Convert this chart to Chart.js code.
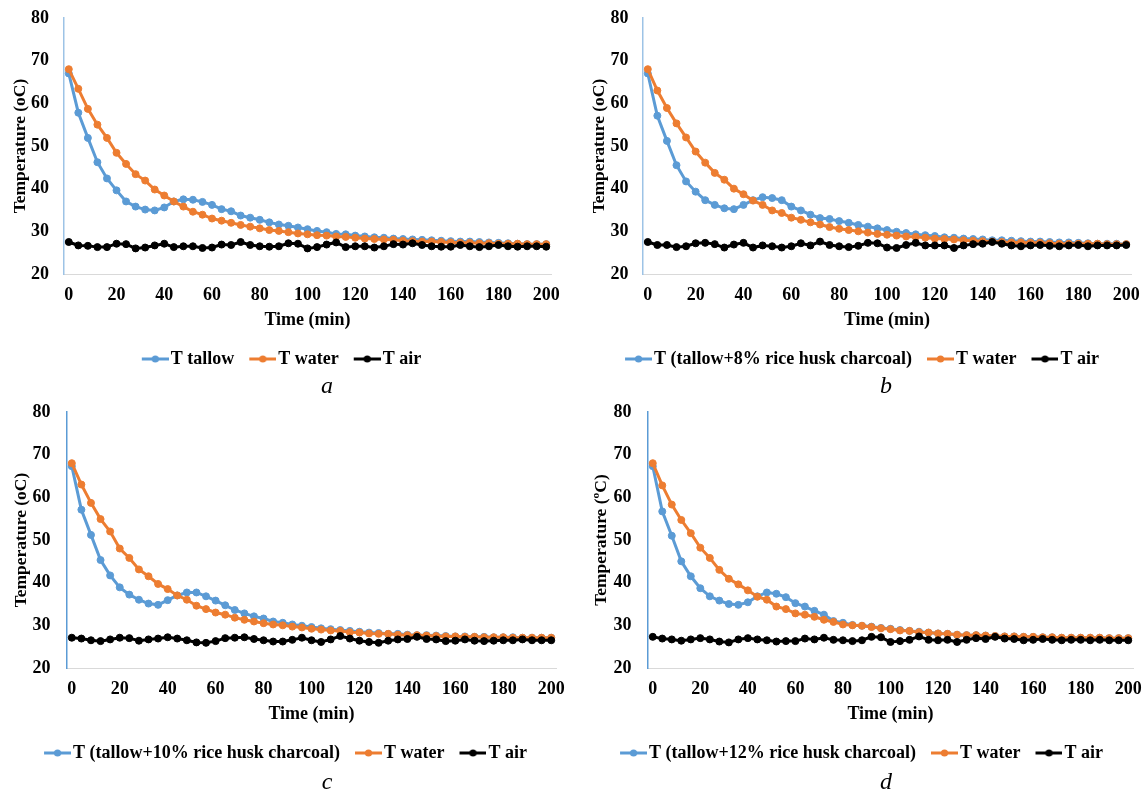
<!DOCTYPE html>
<html lang="en">
<head>
<meta charset="UTF-8">
<title>Cooling curves: tallow and tallow + rice husk charcoal</title>
<script src="https://cdn.jsdelivr.net/npm/chart.js"></script>
<style>
  body { margin: 0; background: #fff; }
  .panel { position: absolute; }
  .caption {
    position: absolute;
    font: italic 24px "Liberation Serif", "Times New Roman", serif;
    line-height: 1;
    transform: translate(-50%, -50%);
  }
</style>
</head>
<body>

<canvas id="chartA" class="panel" width="573" height="396" style="left:0;top:0"></canvas>
<canvas id="chartB" class="panel" width="573" height="396" style="left:573px;top:0"></canvas>
<canvas id="chartC" class="panel" width="573" height="396" style="left:0;top:394px"></canvas>
<canvas id="chartD" class="panel" width="573" height="396" style="left:573px;top:394px"></canvas>

<div class="caption" style="left:327px;top:385px">a</div>
<div class="caption" style="left:886px;top:385px">b</div>
<div class="caption" style="left:327px;top:781px">c</div>
<div class="caption" style="left:886px;top:781px">d</div>

<script>
// time axis, minutes
const timeMin = [0, 4, 8, 12, 16, 20, 24, 28, 32, 36, 40, 44, 48, 52, 56, 60, 64, 68, 72, 76,
  80, 84, 88, 92, 96, 100, 104, 108, 112, 116, 120, 124, 128, 132, 136, 140, 144, 148, 152, 156,
  160, 164, 168, 172, 176, 180, 184, 188, 192, 196, 200];

// (a) pure tallow
const tallowA = [67.0, 57.8, 51.9, 46.2, 42.4, 39.6, 37.0, 35.8, 35.1, 34.9, 35.6, 37.0, 37.5, 37.4, 36.9, 36.2, 35.2, 34.7, 33.7, 33.2,
  32.7, 32.1, 31.6, 31.3, 30.9, 30.5, 30.1, 29.8, 29.4, 29.3, 29.0, 28.8, 28.6, 28.5, 28.3, 28.2, 28.1, 28.0, 27.9, 27.8,
  27.7, 27.6, 27.6, 27.5, 27.4, 27.3, 27.2, 27.1, 27.0, 27.0, 27.0];
const waterA = [68.0, 63.4, 58.7, 55.0, 51.9, 48.4, 45.8, 43.4, 41.9, 39.8, 38.4, 37.0, 35.8, 34.6, 33.9, 33.0, 32.5, 32.0, 31.5, 31.1,
  30.7, 30.3, 30.1, 29.8, 29.5, 29.3, 29.1, 29.0, 28.8, 28.7, 28.5, 28.3, 28.2, 28.1, 28.0, 27.8, 27.7, 27.6, 27.6, 27.5,
  27.4, 27.3, 27.3, 27.2, 27.2, 27.1, 27.1, 27.1, 27.0, 27.0, 27.0];
const airA = [27.5, 26.7, 26.6, 26.3, 26.3, 27.1, 27.0, 26.0, 26.2, 26.7, 27.1, 26.3, 26.5, 26.5, 26.1, 26.2, 26.9, 26.8, 27.5, 26.8,
  26.5, 26.4, 26.5, 27.2, 27.1, 26.0, 26.3, 26.9, 27.4, 26.3, 26.5, 26.5, 26.2, 26.5, 27.0, 26.9, 27.2, 26.8, 26.5, 26.4,
  26.4, 26.8, 26.5, 26.3, 26.5, 26.8, 26.5, 26.4, 26.5, 26.5, 26.4];

// (b) tallow + 8% rice husk charcoal
const tallowB = [67.0, 57.1, 51.2, 45.5, 41.7, 39.3, 37.3, 36.2, 35.4, 35.2, 36.2, 37.3, 38.0, 37.8, 37.3, 35.8, 34.9, 33.9, 33.1, 32.9,
  32.4, 32.0, 31.5, 31.1, 30.7, 30.3, 29.9, 29.6, 29.3, 29.1, 28.9, 28.6, 28.5, 28.3, 28.2, 28.1, 27.9, 27.9, 27.8, 27.7,
  27.6, 27.6, 27.5, 27.4, 27.4, 27.3, 27.2, 27.1, 27.1, 27.1, 27.0];
const waterB = [68.0, 63.0, 58.9, 55.3, 52.0, 48.7, 46.1, 43.7, 42.1, 40.0, 38.7, 37.2, 36.2, 34.9, 34.3, 33.2, 32.7, 32.1, 31.6, 31.0,
  30.6, 30.3, 30.0, 29.7, 29.4, 29.2, 29.0, 28.8, 28.7, 28.5, 28.3, 28.2, 28.1, 27.9, 27.8, 27.7, 27.6, 27.5, 27.4, 27.4,
  27.3, 27.3, 27.2, 27.1, 27.1, 27.1, 27.1, 27.1, 27.0, 27.0, 27.0];
const airB = [27.5, 26.8, 26.8, 26.3, 26.5, 27.2, 27.3, 27.0, 26.2, 26.9, 27.3, 26.2, 26.7, 26.5, 26.2, 26.5, 27.2, 26.7, 27.6, 26.8,
  26.5, 26.3, 26.6, 27.3, 27.2, 26.2, 26.1, 26.8, 27.3, 26.7, 26.7, 26.7, 26.1, 26.7, 27.0, 27.1, 27.5, 27.1, 26.7, 26.5,
  26.7, 26.8, 26.6, 26.5, 26.7, 26.8, 26.5, 26.7, 26.7, 26.7, 26.8];

// (c) tallow + 10% rice husk charcoal
const tallowC = [67.3, 57.1, 51.2, 45.3, 41.7, 38.9, 37.2, 36.0, 35.1, 34.8, 35.9, 37.0, 37.7, 37.7, 36.8, 35.8, 34.7, 33.6, 32.8, 32.1,
  31.6, 30.9, 30.6, 30.2, 29.9, 29.6, 29.3, 29.1, 28.9, 28.7, 28.5, 28.3, 28.2, 28.0, 28.0, 27.8, 27.7, 27.7, 27.6, 27.5,
  27.4, 27.4, 27.3, 27.3, 27.2, 27.2, 27.2, 27.1, 27.1, 27.1, 27.1];
const waterC = [68.0, 63.0, 58.7, 54.9, 52.0, 48.0, 45.8, 43.1, 41.5, 39.7, 38.5, 37.0, 36.0, 34.6, 33.8, 33.0, 32.5, 31.8, 31.3, 30.9,
  30.5, 30.2, 30.0, 29.7, 29.5, 29.2, 29.0, 28.8, 28.7, 28.4, 28.3, 28.1, 28.0, 28.0, 27.8, 27.7, 27.7, 27.6, 27.5, 27.4,
  27.4, 27.3, 27.3, 27.2, 27.2, 27.2, 27.1, 27.1, 27.1, 27.1, 27.1];
const airC = [27.1, 26.9, 26.5, 26.3, 26.7, 27.1, 27.0, 26.4, 26.7, 26.9, 27.2, 26.9, 26.5, 26.0, 25.9, 26.3, 27.0, 27.1, 27.2, 26.8,
  26.5, 26.2, 26.2, 26.6, 27.1, 26.5, 26.1, 26.7, 27.5, 26.9, 26.4, 26.1, 25.9, 26.4, 26.7, 26.8, 27.3, 26.8, 26.7, 26.3,
  26.4, 26.7, 26.4, 26.3, 26.4, 26.5, 26.5, 26.7, 26.5, 26.5, 26.5];

// (d) tallow + 12% rice husk charcoal
const tallowD = [67.3, 56.7, 51.0, 45.0, 41.5, 38.7, 36.8, 35.8, 35.0, 34.8, 35.4, 36.8, 37.7, 37.4, 36.6, 35.2, 34.4, 33.4, 32.5, 31.0,
  30.6, 30.1, 29.9, 29.7, 29.4, 29.2, 28.9, 28.7, 28.5, 28.3, 28.1, 28.0, 27.8, 27.7, 27.7, 27.6, 27.5, 27.4, 27.4, 27.3,
  27.3, 27.2, 27.2, 27.1, 27.1, 27.1, 27.1, 27.1, 27.0, 27.0, 27.0];
const waterD = [68.0, 62.8, 58.3, 54.7, 51.6, 48.2, 45.8, 43.0, 40.9, 39.6, 38.2, 36.7, 36.0, 34.4, 33.8, 32.8, 32.5, 32.0, 31.3, 30.8,
  30.2, 30.0, 29.9, 29.6, 29.3, 29.1, 28.8, 28.7, 28.4, 28.3, 28.1, 28.0, 27.8, 27.7, 27.7, 27.6, 27.5, 27.4, 27.4, 27.3,
  27.3, 27.2, 27.2, 27.1, 27.1, 27.1, 27.1, 27.1, 27.0, 27.0, 27.0];
const airD = [27.3, 26.9, 26.7, 26.4, 26.7, 27.0, 26.7, 26.2, 26.0, 26.7, 27.0, 26.7, 26.5, 26.2, 26.3, 26.3, 26.9, 26.7, 27.1, 26.6,
  26.5, 26.3, 26.5, 27.3, 27.2, 26.1, 26.3, 26.6, 27.4, 26.6, 26.5, 26.6, 26.1, 26.6, 27.0, 26.8, 27.3, 26.9, 26.8, 26.5,
  26.6, 26.8, 26.6, 26.5, 26.6, 26.6, 26.5, 26.6, 26.5, 26.5, 26.5];

const BLUE = '#5B9BD5';
const ORANGE = '#ED7D31';
const BLACK = '#000000';

Chart.defaults.font.family = '"Liberation Serif", "Times New Roman", serif';
Chart.defaults.color = '#000';

// Excel style legend key: short line with a dot in the middle
function legendMarker(color) {
    const c = document.createElement('canvas');
    c.width = 33;
    c.height = 10;
    const g = c.getContext('2d');
    g.strokeStyle = color;
    g.lineWidth = 3;
    g.beginPath();
    g.moveTo(6, 5);
    g.lineTo(33, 5);
    g.stroke();
    g.fillStyle = color;
    g.beginPath();
    g.arc(19.5, 5, 3.6, 0, Math.PI * 2);
    g.fill();
    return c;
}

function series(label, data, color, order) {
    return {
        label: label,
        data: data,
        borderColor: color,
        backgroundColor: color,
        pointBackgroundColor: color,
        pointBorderColor: color,
        borderWidth: 3,
        pointRadius: 3.5,
        pointBorderWidth: 1,
        tension: 0,
        order: order   // air on top, then water, then tallow
    };
}

// one panel; p holds the per-panel labels and spacing
// (label offsets go through tickLength so they don't inflate the layout padding)
function makeChart(canvasId, p) {
    const ctx = document.getElementById(canvasId).getContext('2d');
    new Chart(ctx, {
        type: 'line',
        data: {
            labels: timeMin,
            datasets: [
                series(p.pcmLabel, p.pcm, BLUE, 2),
                series('T water', p.water, ORANGE, 1),
                series('T air', p.air, BLACK, 0)
            ]
        },
        options: {
            responsive: false,
            animation: false,
            layout: { padding: { left: p.padL, right: p.padR, top: 18, bottom: 18 } },
            plugins: {
                tooltip: { enabled: false },
                legend: {
                    position: 'bottom',
                    labels: {
                        usePointStyle: true,
                        pointStyleWidth: 19,
                        padding: 16,
                        color: '#000',
                        font: { size: 18, weight: 'bold' },
                        generateLabels: chart => chart.data.datasets.map((ds, i) => ({
                            text: ds.label,
                            pointStyle: legendMarker(ds.borderColor),
                            fillStyle: ds.borderColor,
                            strokeStyle: ds.borderColor,
                            lineWidth: 0,
                            hidden: false,
                            datasetIndex: i
                        }))
                    }
                }
            },
            scales: {
                x: {
                    offset: true,
                    grid: { display: false, drawTicks: true, tickLength: 11 },
                    border: { color: '#d9d9d9', width: 1 },
                    ticks: {
                        autoSkip: false,
                        maxRotation: 0,
                        padding: 0,
                        font: { size: 18, weight: 'bold' },
                        callback: (v, i) => (i % 5 === 0 ? timeMin[i] : '')
                    },
                    title: {
                        display: true,
                        text: 'Time (min)',
                        font: { size: 18, weight: 'bold' },
                        padding: { top: 0, bottom: 3 }
                    },
                    afterFit: s => { s.height = 60; }
                },
                y: {
                    min: 20,
                    max: 80,
                    grid: { display: false, drawTicks: true, tickLength: p.tickPad - 4 },
                    border: { color: p.axisColor, width: 1.5 },
                    ticks: { stepSize: 10, padding: 4, font: { size: 18, weight: 'bold' } },
                    title: {
                        display: true,
                        text: p.yTitle,
                        font: { size: 17.5, weight: 'bold' },
                        padding: { top: p.titlePad, bottom: 0 }
                    },
                    afterFit: s => { s.width = p.yW; }
                }
            }
        }
    });
}

makeChart('chartA', {
    pcmLabel: 'T tallow', pcm: tallowA, water: waterA, air: airA,
    yTitle: 'Temperature (oC)', axisColor: '#9dc3e6',
    padL: 13, padR: 22, yW: 51, tickPad: 15, titlePad: -3.5
});
makeChart('chartB', {
    pcmLabel: 'T (tallow+8% rice husk charcoal)', pcm: tallowB, water: waterB, air: airB,
    yTitle: 'Temperature (oC)', axisColor: '#9dc3e6',
    padL: 21, padR: 15, yW: 49, tickPad: 14.5, titlePad: -4.8
});
makeChart('chartC', {
    pcmLabel: 'T (tallow+10% rice husk charcoal)', pcm: tallowC, water: waterC, air: airC,
    yTitle: 'Temperature (oC)', axisColor: '#5b9bd5',
    padL: 16, padR: 17, yW: 51, tickPad: 16.5, titlePad: -5.2
});
makeChart('chartD', {
    pcmLabel: 'T (tallow+12% rice husk charcoal)', pcm: tallowD, water: waterD, air: airD,
    yTitle: 'Temperature (\u00BAC)', axisColor: '#5b9bd5',
    padL: 18, padR: 13, yW: 57, tickPad: 16.5, titlePad: 0.2
});
</script>

</body>
</html>
